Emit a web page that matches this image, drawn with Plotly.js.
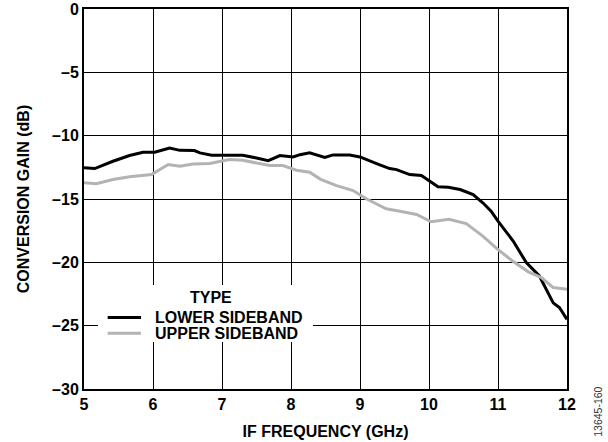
<!DOCTYPE html>
<html>
<head>
<meta charset="utf-8">
<script src="https://cdn.plot.ly/plotly-3.0.1.min.js"></script>
<style>html,body{margin:0;padding:0;background:#fff;}#chart{width:608px;height:442px;}</style>
</head>
<body>
<div id="chart"></div>
<script>
const lowerX = [5.0, 5.155, 5.42, 5.66, 5.855, 6.025, 6.24, 6.39, 6.6, 6.68, 6.85, 7.01, 7.3, 7.5, 7.67, 7.84, 8.03, 8.13, 8.27, 8.49, 8.61, 8.85, 9.0, 9.24, 9.43, 9.53, 9.72, 9.89, 9.99, 10.13, 10.28, 10.45, 10.64, 10.78, 10.9, 11.0, 11.22, 11.41, 11.6, 11.75, 11.8, 11.89, 12.0];
const lowerY = [-12.54, -12.6, -12.02, -11.57, -11.31, -11.31, -10.97, -11.16, -11.18, -11.36, -11.55, -11.55, -11.55, -11.76, -11.97, -11.57, -11.68, -11.5, -11.36, -11.71, -11.52, -11.52, -11.68, -12.2, -12.6, -12.68, -13.07, -13.15, -13.52, -14.04, -14.07, -14.25, -14.65, -15.3, -15.96, -16.75, -18.32, -20.02, -21.08, -22.6, -23.2, -23.57, -24.5];
const upperX = [5.0, 5.18, 5.42, 5.66, 5.98, 6.1, 6.22, 6.39, 6.58, 6.82, 7.01, 7.11, 7.3, 7.5, 7.69, 7.88, 8.08, 8.27, 8.43, 8.66, 8.9, 9.09, 9.38, 9.58, 9.82, 10.03, 10.29, 10.54, 10.78, 10.98, 11.2, 11.44, 11.63, 11.8, 12.0];
const upperY = [-13.72, -13.8, -13.46, -13.25, -13.07, -12.68, -12.28, -12.42, -12.23, -12.2, -11.97, -11.89, -11.94, -12.15, -12.36, -12.36, -12.73, -12.89, -13.45, -13.94, -14.33, -14.98, -15.77, -15.96, -16.22, -16.8, -16.6, -16.94, -17.93, -18.9, -19.85, -20.75, -21.2, -21.99, -22.13];
const xTicks = [5, 6, 7, 8, 9, 10, 11, 12];
const xTickText = ['5', '6', '7', '8', '9', '10', '11', '12'];
const yTicks = [0, -5, -10, -15, -20, -25, -30];
const yTickText = ['0', '\u20135', '\u201310', '\u201315', '\u201320', '\u201325', '\u201330'];
const names = ['LOWER SIDEBAND', 'UPPER SIDEBAND'];
const colors = ['#000000', '#b3b3b3'];
const legendTitle = 'TYPE';
const xTitle = 'IF FREQUENCY (GHz)';
const yTitle = 'CONVERSION GAIN (dB)';

const FONT = 'Liberation Sans, Arial, sans-serif';
const BOLD = 700;
const b = s => '<b>' + s + '</b>';
const traces = [
  {x: lowerX, y: lowerY, name: names[0], mode: 'lines', line: {color: colors[0], width: 3}},
  {x: upperX, y: upperY, name: names[1], mode: 'lines', line: {color: colors[1], width: 3}}
];

// legend drawn manually (paper coords)
const legRowsY = [0.188, 0.1466];
const shapes = [
  {type: 'rect', xref: 'paper', yref: 'paper', x0: 0.029, x1: 0.474, y0: 0.124, y1: 0.274,
   fillcolor: '#fff', line: {width: 0}, layer: 'above'}
];
const annotations = [
  {text: b(legendTitle), xref: 'paper', yref: 'paper', x: 0.2636, y: 0.241, xanchor: 'center', yanchor: 'middle',
   showarrow: false, font: {family: FONT, size: 16, color: '#000'}}
];
names.forEach((n, i) => {
  shapes.push({type: 'line', xref: 'paper', yref: 'paper', x0: 0.049, x1: 0.118, y0: legRowsY[i], y1: legRowsY[i],
    line: {color: colors[i], width: 3}, layer: 'above'});
  annotations.push({text: b(n), xref: 'paper', yref: 'paper', x: 0.1435, y: legRowsY[i], xanchor: 'left', yanchor: 'middle',
    showarrow: false, font: {family: FONT, size: 16, color: '#000'}});
});
annotations.push({
  text: '13645-160', xref: 'paper', yref: 'paper', x: 1.0, y: -0.06, xanchor: 'center', yanchor: 'middle',
  xshift: 31, showarrow: false, textangle: -90,
  font: {family: FONT, size: 10.5, color: '#333'}
});

const layout = {
  width: 608, height: 442,
  margin: {l: 84, r: 41, t: 9, b: 53},
  paper_bgcolor: '#fff', plot_bgcolor: '#fff',
  font: {family: FONT, color: '#000', size: 16},
  showlegend: false,
  xaxis: {
    range: [5, 12], tickvals: xTicks, ticktext: xTickText.map(b),
    showgrid: true, gridcolor: '#000', gridwidth: 1,
    showline: true, linecolor: '#000', linewidth: 2, mirror: true,
    ticks: '', zeroline: false,
    tickfont: {family: FONT, size: 16},
    title: {text: b(xTitle), font: {family: FONT, size: 16}, standoff: 14}
  },
  yaxis: {
    range: [-30, 0], tickvals: yTicks, ticktext: yTickText.map(b),
    showgrid: true, gridcolor: '#000', gridwidth: 1,
    showline: true, linecolor: '#000', linewidth: 2, mirror: true,
    ticks: '', zeroline: false,
    tickfont: {family: FONT, size: 16},
    title: {text: b(yTitle), font: {family: FONT, size: 16}, standoff: 18}
  },
  shapes: shapes,
  annotations: annotations
};
Plotly.newPlot('chart', traces, layout, {displayModeBar: false, staticPlot: true});
</script>
</body>
</html>
